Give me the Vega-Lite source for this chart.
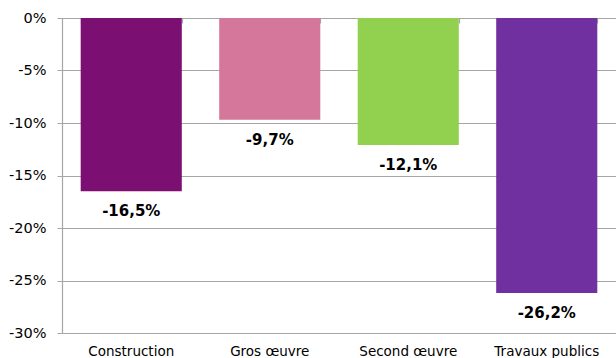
{
  "$schema": "https://vega.github.io/schema/vega-lite/v6.json",
  "width": 554,
  "height": 315,
  "autosize": {"type": "none"},
  "padding": {"left": 62, "top": 18, "right": 0, "bottom": 25},
  "background": "white",
  "config": {
    "locale": {
      "number": {
        "decimal": ",",
        "thousands": " ",
        "grouping": [3],
        "currency": ["", " €"],
        "minus": "-",
        "percent": "%"
      }
    },
    "view": {"stroke": null},
    "axis": {"labelFont": "DejaVu Sans", "labelColor": "#000000"}
  },
  "data": {
    "values": [
      {"secteur": "Construction", "variation": -0.165},
      {"secteur": "Gros œuvre", "variation": -0.097},
      {"secteur": "Second œuvre", "variation": -0.121},
      {"secteur": "Travaux publics", "variation": -0.262}
    ]
  },
  "encoding": {
    "x": {
      "field": "secteur",
      "type": "nominal",
      "sort": null,
      "title": null,
      "scale": {"paddingInner": 0.27, "paddingOuter": 0.135}
    },
    "y": {
      "field": "variation",
      "type": "quantitative",
      "title": null,
      "scale": {"domain": [-0.3, 0], "nice": false, "zero": false},
      "axis": {
        "values": [0, -0.05, -0.1, -0.15, -0.2, -0.25, -0.3],
        "format": ".0%",
        "grid": true,
        "gridColor": "#A6A6A6",
        "gridWidth": 1.2,
        "domainColor": "#A6A6A6",
        "domainWidth": 1.2,
        "tickColor": "#A6A6A6",
        "tickSize": 5,
        "labelFontSize": 14.5,
        "labelPadding": 11
      }
    }
  },
  "layer": [
    {
      "mark": {"type": "bar"},
      "encoding": {
        "x": {
          "field": "secteur",
          "type": "nominal",
          "sort": null,
          "axis": {
            "orient": "bottom",
            "domain": false,
            "ticks": false,
            "labelAngle": 0,
            "labelFontSize": 13.5,
            "labelPadding": 11,
            "labelBaseline": "top"
          }
        },
        "color": {
          "field": "secteur",
          "type": "nominal",
          "sort": null,
          "legend": null,
          "scale": {
            "domain": ["Construction", "Gros œuvre", "Second œuvre", "Travaux publics"],
            "range": ["#7B1072", "#D5779A", "#92D050", "#7030A0"]
          }
        }
      }
    },
    {
      "mark": {
        "type": "text",
        "baseline": "middle",
        "dy": 20,
        "font": "DejaVu Sans",
        "fontSize": 15,
        "fontWeight": "bold",
        "color": "#000000"
      },
      "encoding": {
        "x": {
          "field": "secteur",
          "type": "nominal",
          "sort": null,
          "axis": {
            "orient": "top",
            "labels": false,
            "domainColor": "#A6A6A6",
            "domainWidth": 1.2,
            "tickColor": "#A6A6A6",
            "tickBand": "extent",
            "tickSize": -5,
            "tickWidth": 1.2
          }
        },
        "text": {"field": "variation", "type": "quantitative", "format": ".1%"}
      }
    }
  ],
  "resolve": {"axis": {"x": "independent"}}
}
